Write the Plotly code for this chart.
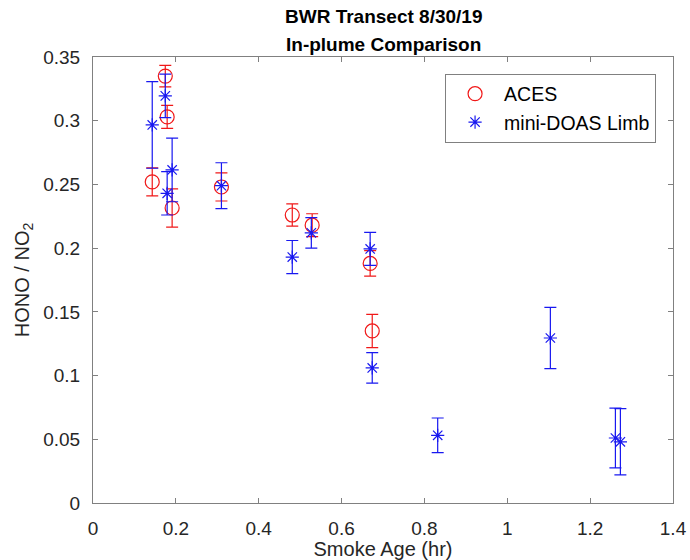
import plotly.graph_objects as go

# ACES (red circles)
aces_age = [0.143, 0.1745, 0.179, 0.191, 0.310, 0.481, 0.529, 0.669, 0.674]
aces_ratio = [0.252, 0.335, 0.303, 0.2315, 0.248, 0.226, 0.218, 0.188, 0.135]
aces_err = [0.011, 0.0085, 0.009, 0.015, 0.011, 0.0087, 0.009, 0.010, 0.013]

# mini-DOAS Limb (blue asterisks)
doas_age = [0.143, 0.1745, 0.191, 0.179, 0.310, 0.481, 0.527, 0.669, 0.674, 0.832, 1.104, 1.261, 1.273]
doas_ratio = [0.2967, 0.3195, 0.2614, 0.243, 0.249, 0.193, 0.212, 0.1994, 0.106, 0.0531, 0.1295, 0.051, 0.048]
doas_err = [0.034, 0.017, 0.025, 0.017, 0.018, 0.013, 0.012, 0.013, 0.012, 0.0136, 0.024, 0.0235, 0.026]

x_ticks = [0, 0.2, 0.4, 0.6, 0.8, 1.0, 1.2, 1.4]
x_tick_labels = ["0", "0.2", "0.4", "0.6", "0.8", "1", "1.2", "1.4"]
y_ticks = [0, 0.05, 0.1, 0.15, 0.2, 0.25, 0.3, 0.35]
y_tick_labels = ["0", "0.05", "0.1", "0.15", "0.2", "0.25", "0.3", "0.35"]

title_lines = ["BWR Transect 8/30/19", "In-plume Comparison"]

RED = "#F01818"
BLUE = "#1818F0"
FONT = "Liberation Sans, Arial"

fig = go.Figure()
fig.add_trace(go.Scatter(
    x=aces_age, y=aces_ratio, mode="markers", name="ACES",
    marker=dict(symbol="circle-open", size=14, color=RED, line=dict(width=1.2, color=RED)),
    error_y=dict(type="data", array=aces_err, color=RED, thickness=1.2, width=6),
))
fig.add_trace(go.Scatter(
    x=doas_age, y=doas_ratio, mode="markers", name="mini-DOAS Limb",
    marker=dict(symbol="asterisk-open", size=11, color=BLUE, line=dict(width=1.2, color=BLUE)),
    error_y=dict(type="data", array=doas_err, color=BLUE, thickness=1.2, width=6),
))

axis_common = dict(
    showgrid=False, zeroline=False, showline=True, linecolor="#808080", linewidth=1,
    mirror="ticks", ticks="inside", ticklen=5, tickcolor="#808080", automargin=False,
    ticklabelstandoff=8,
    tickfont=dict(family=FONT, size=19, color="#262626"),
)

fig.update_layout(
    width=690, height=560,
    margin=dict(l=93, r=17, t=57, b=57, autoexpand=False),
    paper_bgcolor="white", plot_bgcolor="white",
    xaxis=dict(range=[0, 1.4], tickvals=x_ticks, ticktext=x_tick_labels,
               title=dict(text="Smoke Age (hr)", standoff=2,
                          font=dict(family=FONT, size=20, color="#262626")),
               **axis_common),
    yaxis=dict(range=[0, 0.35], tickvals=y_ticks, ticktext=y_tick_labels,
               title=dict(text="HONO / NO<sub>2</sub>", standoff=8,
                          font=dict(family=FONT, size=20, color="#262626")),
               **axis_common),
    legend=dict(
        x=0.607, y=0.963, xanchor="left", yanchor="top",
        bordercolor="#808080", borderwidth=1, bgcolor="white",
        font=dict(family=FONT, size=19.5, color="black"),
        itemwidth=48, tracegroupgap=0,
    ),
    showlegend=True,
)

fig.add_annotation(text="<b>%s</b>" % title_lines[0], xref="paper", yref="paper",
                   x=0.5, y=1.0897, xanchor="center", yanchor="middle", showarrow=False,
                   font=dict(family=FONT, size=19, color="black"))
fig.add_annotation(text="<b>%s</b>" % title_lines[1], xref="paper", yref="paper",
                   x=0.5, y=1.029, xanchor="center", yanchor="middle", showarrow=False,
                   font=dict(family=FONT, size=19, color="black"))

fig.write_html(
    "out.html",
    config={"displayModeBar": False},
    post_script="document.body.style.margin='0';document.body.style.padding='0';"
                "document.body.style.overflow='hidden';",
)
